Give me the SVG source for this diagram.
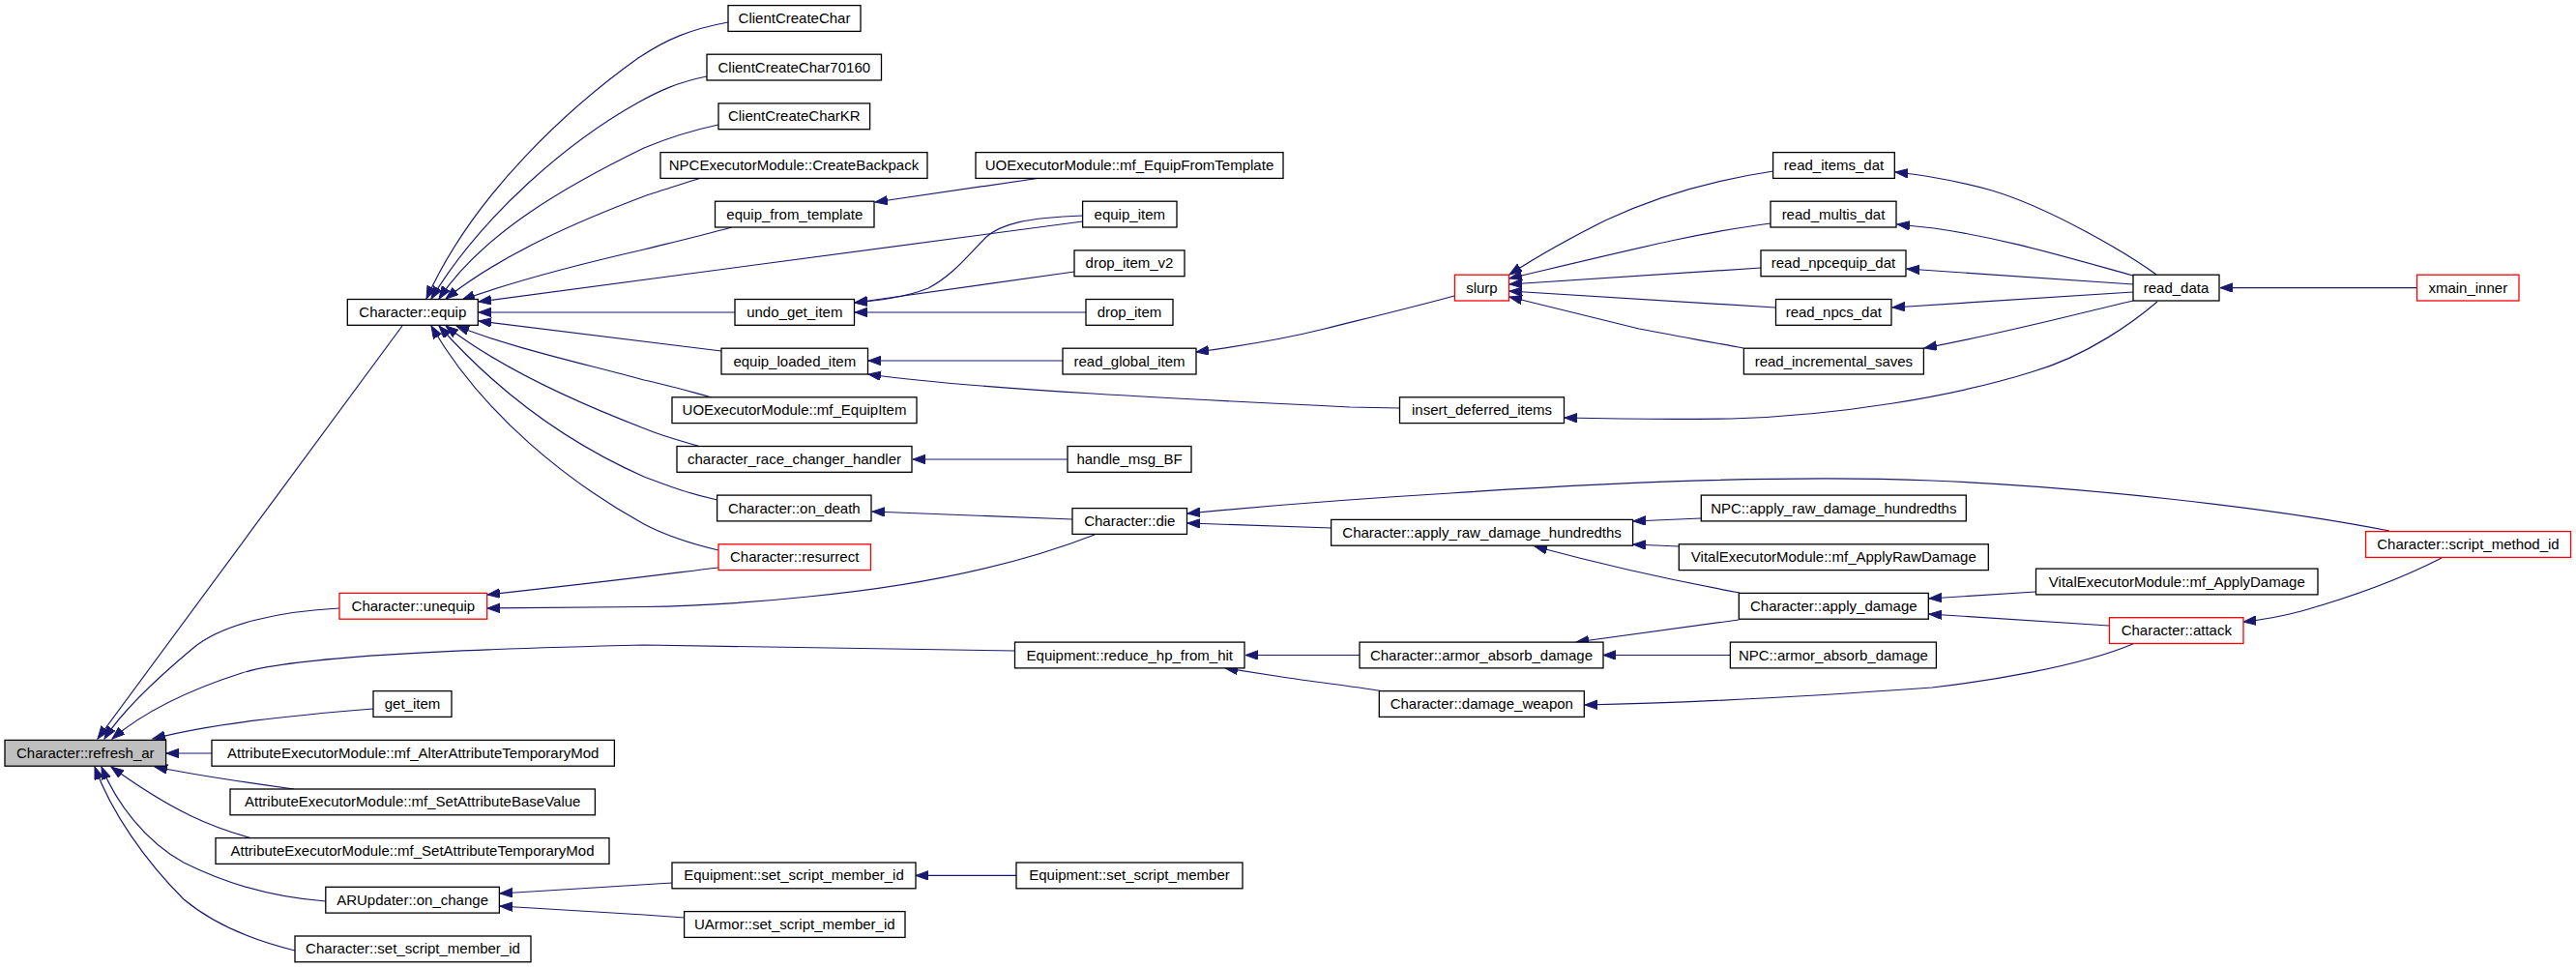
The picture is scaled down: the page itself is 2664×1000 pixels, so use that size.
<svg xmlns="http://www.w3.org/2000/svg" width="2664" height="1000" viewBox="0 0 2664 1000">
<style>
.n rect{fill:#fff;stroke:#000;stroke-width:1.3}
.n.r rect{stroke:#ff0000}
.n.g rect{fill:#bfbfbf}
.n text{font-family:"Liberation Sans",Arial,sans-serif;font-size:15px;text-anchor:middle;fill:#000}
#edges path{fill:none;stroke:#191970;stroke-width:1.2;marker-end:url(#ah)}
</style>
<defs>
<marker id="ah" markerUnits="userSpaceOnUse" markerWidth="15" markerHeight="11" refX="13" refY="4.75" orient="auto">
<path d="M0,0 L13,4.75 L0,9.5 z" fill="#191970" stroke="#191970" stroke-width="1"/>
</marker>
</defs>
<rect width="2664" height="1000" fill="#fff"/>
<g id="edges">
<path d="M416,337 L101,764"/>
<path d="M351,629 C290,632 230,645 200,670 C170,695 130,730 108,764"/>
<path d="M1049.5,673 L666,667 C450,672 300,680 250,696 C200,712 150,735 116,764"/>
<path d="M386,733 C300,740 220,748 158,764"/>
<path d="M219,779 L172,779"/>
<path d="M304,816 C260,810 200,801 160,793"/>
<path d="M261,867 C220,856 180,840 115,793"/>
<path d="M337,932 C280,928 230,912 190,892 C150,870 120,830 105,793"/>
<path d="M305,983 C260,972 220,955 190,930 C150,890 115,840 98,793"/>
<path d="M753,23 C715,30 690,40 660,60 C590,110 490,200 441,309"/>
<path d="M731,79 C700,85 680,95 660,106 C590,145 500,220 446,309"/>
<path d="M743,129 C710,136 690,143 666,153 C590,190 500,240 454,309"/>
<path d="M725,184 C700,192 680,198 666,203 C600,228 520,262 461,309"/>
<path d="M757,235 C720,245 690,252 666,258 C600,273 540,288 478,310"/>
<path d="M1119.6,229 L495,312"/>
<path d="M760,323 L495,323"/>
<path d="M746,363 C700,357 600,345 495,332"/>
<path d="M736,411 C710,404 690,398 666,393 C600,375 530,360 472,337"/>
<path d="M725,462 C700,455 680,449 666,443 C580,410 510,375 461,337"/>
<path d="M742,517 C710,510 690,502 666,493 C580,455 510,400 454,337"/>
<path d="M743,569 C705,560 685,552 666,542 C590,500 500,430 446,337"/>
<path d="M743,587 C700,592 660,598 504,615"/>
<path d="M1132,553 C1050,585 950,606 836,617 C760,625 700,627 666,627.5 L504,629"/>
<path d="M1120,223 C1060,225 1035,232 1020,245 C1000,265 985,285 960,298 C935,308 905,311 884,313"/>
<path d="M1111,281 L884,313"/>
<path d="M1123,323 L884,323"/>
<path d="M1076,184 L905,209"/>
<path d="M1099,373 L898,373"/>
<path d="M1447,422 L1396,421 C1250,414 1000,402 898,387"/>
<path d="M1504,306 C1460,318 1410,330 1370,340 C1330,350 1290,357 1237,364"/>
<path d="M1104,475 L944,475"/>
<path d="M1109,537 L902,529"/>
<path d="M1377,546 L1228,541"/>
<path d="M2471,549 C2350,525 2150,503 1998,497 C1850,491 1650,500 1500,510 C1400,516 1300,524 1228,531"/>
<path d="M1834,177 C1780,185 1720,200 1660,228 C1620,248 1590,265 1561,284"/>
<path d="M1831,231 C1760,240 1700,255 1561,288"/>
<path d="M1821,277 L1561,294"/>
<path d="M1836,318 L1561,301"/>
<path d="M1803,360 C1760,352 1720,345 1695,340 L1561,307"/>
<path d="M2230,284 C2200,262 2120,215 2060,197 C2020,186 1990,181 1960,178"/>
<path d="M2206,285 C2130,264 2070,246 2000,236 L1962,232"/>
<path d="M2206,294 L1972,278"/>
<path d="M2206,302 L1957,318"/>
<path d="M2206,311 C2150,324 2080,343 1990,360"/>
<path d="M2231,312 C2210,330 2160,368 2100,385 C2020,410 1900,430 1790,433 C1720,434 1660,433 1618,432"/>
<path d="M2500,297.6 L2296,297.6"/>
<path d="M1759,536 L1689,539"/>
<path d="M1736,565 L1689,563"/>
<path d="M1799,613 C1750,604 1680,590 1587,565"/>
<path d="M2105,612 L1995,619"/>
<path d="M2181,647 L1995,635"/>
<path d="M2525,577 C2490,595 2440,615 2380,632 C2350,640 2330,642 2320,643"/>
<path d="M1798,641 L1630,664"/>
<path d="M1789,677.5 L1658,677.5"/>
<path d="M1406,677.5 L1288,677.5"/>
<path d="M1432,715 C1400,710 1360,705 1332,701 L1267,691"/>
<path d="M2208,665 C2150,690 2050,705 1998,711 C1900,718 1750,727 1639,729"/>
<path d="M695,913 L517,924"/>
<path d="M708,949 L666,946 L517,937"/>
<path d="M1051,905.4 L947,905.4"/>
</g>
<g id="n1" class="n g"><rect x="5" y="765.4" width="166.6" height="26.8"/><text x="88.3" y="783.8">Character::refresh_ar</text></g>
<g id="n2" class="n"><rect x="359.3" y="309.5" width="135" height="26.8"/><text x="426.8" y="327.9">Character::equip</text></g>
<g id="n3" class="n r"><rect x="351" y="613.4" width="152.7" height="26.8"/><text x="427.4" y="631.8">Character::unequip</text></g>
<g id="n4" class="n"><rect x="386" y="714.6" width="81" height="26.8"/><text x="426.5" y="733">get_item</text></g>
<g id="n5" class="n"><rect x="219" y="765.4" width="416.4" height="26.8"/><text x="427.2" y="783.8">AttributeExecutorModule::mf_AlterAttributeTemporaryMod</text></g>
<g id="n6" class="n"><rect x="238" y="816" width="377.4" height="26.8"/><text x="426.7" y="834.4">AttributeExecutorModule::mf_SetAttributeBaseValue</text></g>
<g id="n7" class="n"><rect x="223" y="866.6" width="407" height="26.8"/><text x="426.5" y="885">AttributeExecutorModule::mf_SetAttributeTemporaryMod</text></g>
<g id="n8" class="n"><rect x="336.8" y="917.3" width="179.6" height="26.8"/><text x="426.6" y="935.7">ARUpdater::on_change</text></g>
<g id="n9" class="n"><rect x="305" y="968" width="244" height="26.8"/><text x="427" y="986.4">Character::set_script_member_id</text></g>
<g id="n10" class="n"><rect x="753" y="5.6" width="137" height="26.8"/><text x="821.5" y="24">ClientCreateChar</text></g>
<g id="n11" class="n"><rect x="731" y="56.2" width="180.5" height="26.8"/><text x="821.3" y="74.6">ClientCreateChar70160</text></g>
<g id="n12" class="n"><rect x="743" y="106.9" width="156.6" height="26.8"/><text x="821.3" y="125.3">ClientCreateCharKR</text></g>
<g id="n13" class="n"><rect x="683" y="157.6" width="276" height="26.8"/><text x="821" y="176">NPCExecutorModule::CreateBackpack</text></g>
<g id="n14" class="n"><rect x="739.5" y="208.2" width="164.5" height="26.8"/><text x="821.8" y="226.6">equip_from_template</text></g>
<g id="n15" class="n"><rect x="760" y="309.5" width="123.5" height="26.8"/><text x="821.8" y="327.9">undo_get_item</text></g>
<g id="n16" class="n"><rect x="746" y="360.2" width="151.5" height="26.8"/><text x="821.8" y="378.6">equip_loaded_item</text></g>
<g id="n17" class="n"><rect x="695" y="410.8" width="253" height="26.8"/><text x="821.5" y="429.2">UOExecutorModule::mf_EquipItem</text></g>
<g id="n18" class="n"><rect x="700" y="461.5" width="243" height="26.8"/><text x="821.5" y="479.9">character_race_changer_handler</text></g>
<g id="n19" class="n"><rect x="741.6" y="512.1" width="159.4" height="26.8"/><text x="821.3" y="530.5">Character::on_death</text></g>
<g id="n20" class="n r"><rect x="743" y="562.8" width="157.4" height="26.8"/><text x="821.7" y="581.2">Character::resurrect</text></g>
<g id="n21" class="n"><rect x="695" y="892" width="252" height="26.8"/><text x="821" y="910.4">Equipment::set_script_member_id</text></g>
<g id="n22" class="n"><rect x="707.6" y="942.6" width="228.4" height="26.8"/><text x="821.8" y="961">UArmor::set_script_member_id</text></g>
<g id="n23" class="n"><rect x="1009" y="157.6" width="318" height="26.8"/><text x="1168" y="176">UOExecutorModule::mf_EquipFromTemplate</text></g>
<g id="n24" class="n"><rect x="1119.6" y="208.2" width="97.4" height="26.8"/><text x="1168.3" y="226.6">equip_item</text></g>
<g id="n25" class="n"><rect x="1111" y="258.9" width="114" height="26.8"/><text x="1168" y="277.3">drop_item_v2</text></g>
<g id="n26" class="n"><rect x="1123" y="309.5" width="90" height="26.8"/><text x="1168" y="327.9">drop_item</text></g>
<g id="n27" class="n"><rect x="1099" y="360.2" width="138" height="26.8"/><text x="1168" y="378.6">read_global_item</text></g>
<g id="n28" class="n"><rect x="1104" y="461.5" width="128" height="26.8"/><text x="1168" y="479.9">handle_msg_BF</text></g>
<g id="n29" class="n"><rect x="1109" y="525.6" width="118.5" height="26.8"/><text x="1168.3" y="544">Character::die</text></g>
<g id="n30" class="n"><rect x="1049.5" y="664.1" width="237.5" height="26.8"/><text x="1168.3" y="682.5">Equipment::reduce_hp_from_hit</text></g>
<g id="n31" class="n"><rect x="1051" y="892" width="234" height="26.8"/><text x="1168" y="910.4">Equipment::set_script_member</text></g>
<g id="n32" class="n r"><rect x="1504.4" y="284.2" width="56" height="26.8"/><text x="1532.4" y="302.6">slurp</text></g>
<g id="n33" class="n"><rect x="1447.5" y="410.8" width="170" height="26.8"/><text x="1532.5" y="429.2">insert_deferred_items</text></g>
<g id="n34" class="n"><rect x="1376.6" y="537.4" width="312" height="26.8"/><text x="1532.6" y="555.8">Character::apply_raw_damage_hundredths</text></g>
<g id="n35" class="n"><rect x="1406" y="664.1" width="252" height="26.8"/><text x="1532" y="682.5">Character::armor_absorb_damage</text></g>
<g id="n36" class="n"><rect x="1426.3" y="714.6" width="212" height="26.8"/><text x="1532.3" y="733">Character::damage_weapon</text></g>
<g id="n37" class="n"><rect x="1833.6" y="157.6" width="125.7" height="26.8"/><text x="1896.5" y="176">read_items_dat</text></g>
<g id="n38" class="n"><rect x="1831" y="208.2" width="130" height="26.8"/><text x="1896" y="226.6">read_multis_dat</text></g>
<g id="n39" class="n"><rect x="1821" y="258.9" width="150" height="26.8"/><text x="1896" y="277.3">read_npcequip_dat</text></g>
<g id="n40" class="n"><rect x="1836.5" y="309.5" width="119.5" height="26.8"/><text x="1896.3" y="327.9">read_npcs_dat</text></g>
<g id="n41" class="n"><rect x="1803.4" y="360.2" width="186" height="26.8"/><text x="1896.4" y="378.6">read_incremental_saves</text></g>
<g id="n42" class="n"><rect x="1759.3" y="512.1" width="274" height="26.8"/><text x="1896.3" y="530.5">NPC::apply_raw_damage_hundredths</text></g>
<g id="n43" class="n"><rect x="1736.3" y="562.8" width="320" height="26.8"/><text x="1896.3" y="581.2">VitalExecutorModule::mf_ApplyRawDamage</text></g>
<g id="n44" class="n"><rect x="1798.3" y="613.4" width="196" height="26.8"/><text x="1896.3" y="631.8">Character::apply_damage</text></g>
<g id="n45" class="n"><rect x="1789.4" y="664.1" width="213" height="26.8"/><text x="1895.9" y="682.5">NPC::armor_absorb_damage</text></g>
<g id="n46" class="n"><rect x="2206" y="284.2" width="89" height="26.8"/><text x="2250.5" y="302.6">read_data</text></g>
<g id="n47" class="n"><rect x="2105.5" y="588.1" width="291.5" height="26.8"/><text x="2251.3" y="606.5">VitalExecutorModule::mf_ApplyDamage</text></g>
<g id="n48" class="n r"><rect x="2181.5" y="638.7" width="138.5" height="26.8"/><text x="2250.8" y="657.1">Character::attack</text></g>
<g id="n49" class="n r"><rect x="2499.6" y="284.2" width="105.4" height="26.8"/><text x="2552.3" y="302.6">xmain_inner</text></g>
<g id="n50" class="n r"><rect x="2446.5" y="549.6" width="212" height="26.8"/><text x="2552.5" y="568">Character::script_method_id</text></g>
</svg>
